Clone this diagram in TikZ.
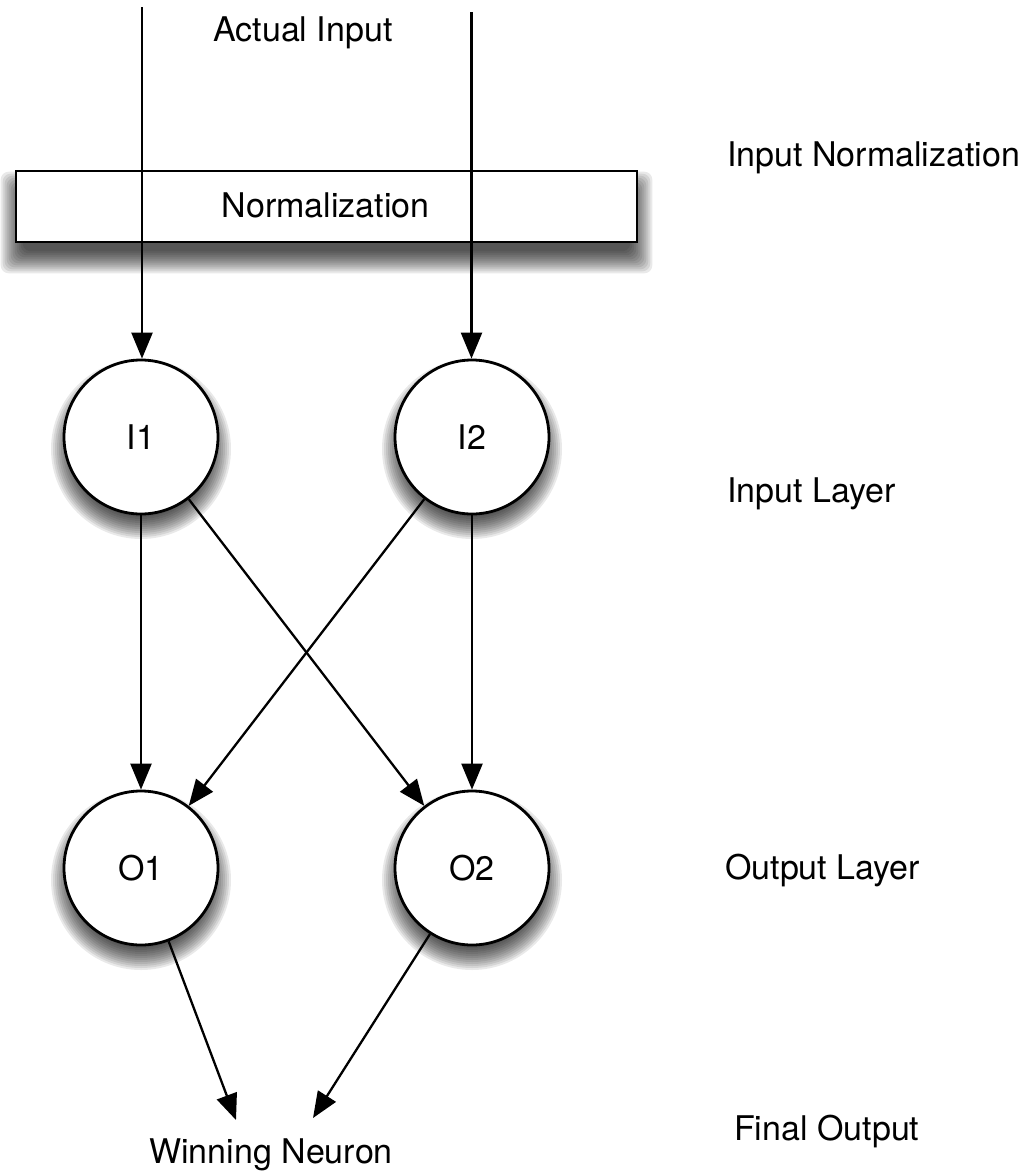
\documentclass[tikz,border=0pt]{standalone}
\usepackage{fontspec}
\setmainfont{TeX Gyre Heros}
\usetikzlibrary{arrows.meta,backgrounds}

\tikzset{
  lbl/.style={inner sep=0pt, font=\fontsize{34}{40}\selectfont, text=black},
  sidelbl/.style={lbl, anchor=west},
  neuron/.style={circle, draw=black, line width=2.8pt, fill=white,
    minimum size=154pt, inner sep=0pt, font=\fontsize{34}{40}\selectfont},
  normbox/.style={rectangle, draw=black, line width=2.6pt, fill=white,
    minimum width=621pt, minimum height=71pt, inner sep=0pt,
    font=\fontsize{34}{40}\selectfont},
  shadowlayer/.style={fill=black, opacity=0.085},
  arr/.style={line width=2.3pt, -{Triangle[length=26pt, width=21pt]}},
}

% soft drop shadow under a round node: stacked translucent discs
\newcommand{\discshadow}[1]{%
  \foreach \r in {64,66,...,90}
    \fill[shadowlayer] ([yshift=-12pt]#1.center) circle (\r pt);}

\begin{document}
\begin{tikzpicture}[x=1pt, y=-1pt]
  \useasboundingbox (0,0) rectangle (1031,1175);

  % normalization stage
  \node[normbox] (norm) at (326.5,206.5) {};
  \node[lbl] (normtxt) at (325.5,205) {Normalization};

  % neurons
  \node[neuron] (I1) at (141,437) {I1};
  \node[neuron] (I2) at (472,437) {I2};
  \node[neuron] (O1) at (141,868) {O1};
  \node[neuron] (O2) at (472,868) {O2};

  % drop shadows
  \begin{scope}[on background layer]
    \foreach \r in {-8,-6,...,14}
      \fill[shadowlayer, rounded corners=8pt]
        ([xshift=-\r pt, yshift=-16pt-\r pt]norm.south west) rectangle
        ([xshift=\r pt, yshift=-16pt+\r pt]norm.north east);
    \discshadow{I1}
    \discshadow{I2}
    \discshadow{O1}
    \discshadow{O2}
  \end{scope}

  % labels
  \node[lbl] (actual) at (303,33) {Actual Input};
  \node[lbl] (winner) at (271,1155) {Winning Neuron};
  \node[sidelbl] (lnorm) at (727,158) {Input Normalization};
  \node[sidelbl] (lin) at (727,494) {Input Layer};
  \node[sidelbl] (lout) at (725,870) {Output Layer};
  \node[sidelbl] (lfinal) at (734,1131) {Final Output};

  % input feeds and output ends
  \coordinate (src1) at (142,7);
  \coordinate (src2) at (471.5,12);
  \coordinate (win1) at (236,1120);
  \coordinate (win2) at (313,1118);

  % connections
  \draw[arr] (src1) -- (src1 |- I1.north);
  \draw[arr] (src2) -- (src2 |- I2.north);
  \draw[arr] (I1) -- (O1);
  \draw[arr] (I2) -- (O2);
  \draw[arr] (I1) -- (O2);
  \draw[arr] (I2) -- (O1);
  \draw[arr] (O1) -- (win1);
  \draw[arr] (O2) -- (win2);
\end{tikzpicture}
\end{document}
